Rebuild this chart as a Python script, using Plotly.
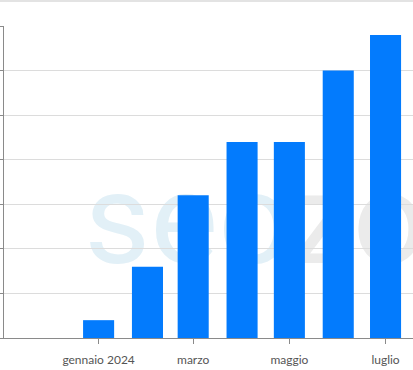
import plotly.graph_objects as go

# Data
months = ["2024-01-01", "2024-02-01", "2024-03-01", "2024-04-01",
          "2024-05-01", "2024-06-01", "2024-07-01"]
values = [2, 8, 16, 22, 22, 30, 34]
tick_dates = ["2024-01-01", "2024-03-01", "2024-05-01", "2024-07-01"]
tick_labels = ["gennaio 2024", "marzo", "maggio", "luglio"]
watermark = "<span style='color:#e2f0f7'>seo</span><span style='color:#ebebeb'>zoom</span>"

DAY_MS = 86400000

fig = go.Figure()
fig.add_trace(go.Bar(
    x=months, y=values,
    width=[19.7 * DAY_MS] * len(months),
    marker=dict(color="#037bfd", line=dict(width=0)),
    hoverinfo="skip",
))

fig.update_layout(
    width=413, height=370,
    margin=dict(l=4, r=0, t=26, b=32, pad=0),
    paper_bgcolor="white", plot_bgcolor="white",
    showlegend=False,
    font=dict(family="Lato, Open Sans, sans-serif", size=12, color="#555555"),
    xaxis=dict(
        type="date",
        range=["2023-11-02", "2024-07-18 10:00"],
        tickvals=tick_dates, ticktext=tick_labels,
        ticks="outside", ticklen=5, tickcolor="#8a8a8a", tickwidth=1,
        ticklabelstandoff=6,
        showgrid=False, showline=True, linecolor="#8a8a8a", linewidth=1,
        zeroline=False,
        tickfont=dict(size=12, color="#555555"),
    ),
    yaxis=dict(
        range=[0, 35], dtick=5, tick0=0,
        showticklabels=False,
        ticks="outside", ticklen=4, tickcolor="#8a8a8a",
        showgrid=True, gridcolor="#dcdcdc", gridwidth=1,
        showline=True, linecolor="#8a8a8a", linewidth=1,
        zeroline=False,
    ),
    shapes=[
        dict(type="line", xref="paper", yref="paper",
             x0=-0.02, x1=1.0, y0=1.0801, y1=1.0801,
             line=dict(color="#e3e3e3", width=2), layer="below"),
        dict(type="rect", xref="paper", yref="paper",
             x0=0.52, x1=1.16, y0=0.2, y1=0.62,
             line=dict(width=0), fillcolor="rgba(0,0,0,0)", layer="below",
             label=dict(text=watermark, textposition="middle center",
                        font=dict(family="Roboto", size=128, weight=400,
                                  color="#e8e8e8"))),
    ],
)

fig.write_html("out.html")
